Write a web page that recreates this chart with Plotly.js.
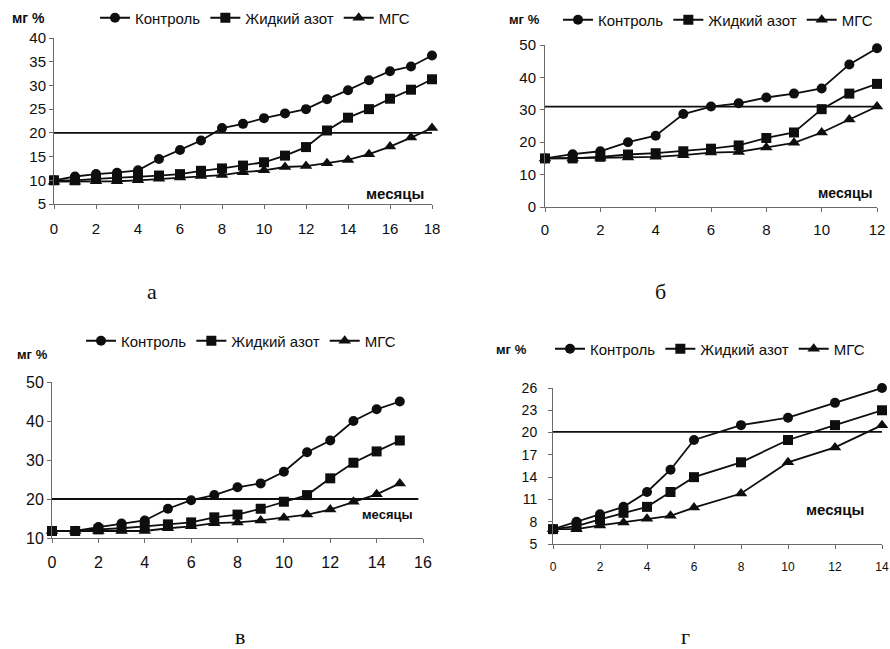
<!DOCTYPE html>
<html>
<head>
<meta charset="utf-8">
<script src="https://cdn.plot.ly/plotly-3.0.1.min.js"></script>
<style>html,body{margin:0;padding:0;background:#fff}</style>
</head>
<body>
<div id="chart" style="width:890px;height:649px"></div>
<script>
// Series names shared by all four panels
const seriesNames = ["Контроль", "Жидкий азот", "МГС"];

// Panel а: 0–18 months
const monthsA  = [0,1,2,3,4,5,6,7,8,9,10,11,12,13,14,15,16,17,18];
const controlA = [10,10.8,11.3,11.6,12.1,14.5,16.4,18.4,21,21.9,23.1,24.1,25,27.1,29,31.1,33,34,36.3];
const nitrogenA= [10,10,10.3,10.5,10.8,11,11.3,12,12.5,13.1,13.8,15.2,17,20.5,23.2,25,27.2,29.1,31.3];
const mgsA     = [9.7,9.7,9.8,9.8,10,10.3,10.6,10.9,11.1,11.7,12.1,12.8,13,13.6,14.3,15.5,17.1,19,21];
const refA = 20;

// Panel б: 0–12 months
const monthsB  = [0,1,2,3,4,5,6,7,8,9,10,11,12];
const controlB = [15,16.3,17.2,20,22,28.7,31,32,33.8,35,36.6,44,49];
const nitrogenB= [15,15,15.5,16.2,16.6,17.2,18,19,21.3,23,30.2,35,38];
const mgsB     = [15,15,15.2,15.3,15.5,16,16.8,17,18.4,19.8,23,27,31];
const refB = 31;

// Panel в: 0–15 months
const monthsC  = [0,1,2,3,4,5,6,7,8,9,10,11,12,13,14,15];
const controlC = [11.8,11.8,12.8,13.7,14.5,17.5,19.7,21,23,24,27,32,35,40,43,45];
const nitrogenC= [11.8,11.8,12.2,12.5,13,13.5,14,15.3,16,17.5,19.3,21,25.3,29.3,32.2,35];
const mgsC     = [11.8,11.8,11.8,11.8,11.8,12.5,13,13.8,14,14.5,15.2,16,17.3,19.3,21.2,24];
const refC = 20;

// Panel г: 0–14 months
const monthsD  = [0,1,2,3,4,5,6,8,10,12,14];
const controlD = [7,8,9,10,12,15,19,21,22,24,26];
const nitrogenD= [7,7.4,8.3,9.2,10,12,14,16,19,21,23];
const mgsD     = [7,7,7.5,7.9,8.4,8.8,9.9,11.8,16,18,21];
const refD = 20.1;

// Axis tick settings
const xTicksA = {range:[0,18], dtick:2};
const yTicksA = {range:[5,40], dtick:5};
const xTicksB = {range:[0,12], dtick:2};
const yTicksB = {range:[0,50], dtick:10};
const xTicksC = {range:[0,16], dtick:2};
const yTicksC = {range:[10,50], dtick:10};
const xTicksD = {range:[0,14], dtick:2};
const yTicksD = {range:[5,26], tickvals:[5,8,11,14,17,20,23,26]};

const W = 890, H = 649;
const px = v => v / W;
const py = v => 1 - v / H;
const INK = '#0e0e0e';
const symbols = ['circle','square','triangle-up'];
const symbolSizes = [10, 10, 11];

const traces = [];
function addPanel(n, x, series, ref, refRange) {
  const xa = n === 1 ? 'x' : 'x' + n;
  const ya = n === 1 ? 'y' : 'y' + n;
  const lg = n === 1 ? 'legend' : 'legend' + n;
  series.forEach((ys, i) => {
    traces.push({
      type:'scatter', mode:'lines+markers', x:x, y:ys, name:seriesNames[i],
      xaxis:xa, yaxis:ya, legend:lg, cliponaxis:false,
      line:{color:INK, width:1.8},
      marker:{symbol:symbols[i], size:symbolSizes[i], color:INK}
    });
  });
  traces.push({
    type:'scatter', mode:'lines', x:refRange, y:[ref, ref],
    xaxis:xa, yaxis:ya, showlegend:false, cliponaxis:false, hoverinfo:'skip',
    line:{color:INK, width:1.8}
  });
}
addPanel(1, monthsA, [controlA, nitrogenA, mgsA], refA, [0,18]);
addPanel(2, monthsB, [controlB, nitrogenB, mgsB], refB, [0,12]);
addPanel(3, monthsC, [controlC, nitrogenC, mgsC], refC, [0,15.8]);
addPanel(4, monthsD, [controlD, nitrogenD, mgsD], refD, [0,14]);

const tickFont = s => ({family:'Liberation Sans, Arial, sans-serif', size:s, color:INK});
function axis(t, dom, anchor, fs, standoff) {
  return Object.assign({
    domain:dom, anchor:anchor, showgrid:false, zeroline:false,
    showline:true, linecolor:'#6a6a6a', linewidth:1,
    ticks:'outside', ticklen:4, tickcolor:'#6a6a6a',
    tickfont:tickFont(fs), ticklabelstandoff:standoff, fixedrange:true
  }, t);
}
function legend(x, y, fs) {
  return {orientation:'h', x:x, y:y, xanchor:'left', yanchor:'middle',
    bgcolor:'rgba(0,0,0,0)', font:{family:'Liberation Sans, Arial, sans-serif', size:fs, color:INK},
    itemwidth:30, tracegroupgap:0};
}

const boldFont = s => ({family:'Liberation Sans, Arial, sans-serif', size:s, color:INK, weight:'bold'});
const serifFont = {family:'Liberation Serif, Times New Roman, serif', size:22, color:INK};
function note(text, x, y, font) {
  return {text:text, xref:'paper', yref:'paper', x:px(x), y:py(y),
    xanchor:'center', yanchor:'middle', showarrow:false, font:font};
}

const layout = {
  width:W, height:H, margin:{l:0,r:0,t:0,b:0},
  paper_bgcolor:'#fff', plot_bgcolor:'rgba(0,0,0,0)',
  xaxis:  axis(xTicksA, [px(54), px(432)], 'y', 15, 7),
  yaxis:  axis(yTicksA, [py(204), py(38)], 'x', 15, 0),
  xaxis2: axis(xTicksB, [px(545), px(877)], 'y2', 15, 5),
  yaxis2: axis(yTicksB, [py(207), py(45)], 'x2', 15, 1),
  xaxis3: axis(xTicksC, [px(52), px(423)], 'y3', 16, 6),
  yaxis3: axis(yTicksC, [py(538), py(382)], 'x3', 16, 0),
  xaxis4: axis(xTicksD, [px(553), px(882)], 'y4', 12, 8),
  yaxis4: axis(yTicksD, [py(544), py(388)], 'x4', 14, 8),
  legend:  legend(px(95), py(18), 15),
  legend2: legend(px(558), py(20), 15),
  legend3: legend(px(81), py(341), 15),
  legend4: legend(px(550), py(349), 15),
  annotations: [
    note('мг %', 28, 18, boldFont(14)),
    note('мг %', 524, 19, boldFont(13)),
    note('мг %', 32, 354, boldFont(13)),
    note('мг %', 511, 349, boldFont(13)),
    note('месяцы', 395, 193, boldFont(15)),
    note('месяцы', 845, 193, boldFont(14)),
    note('месяцы', 387, 514, boldFont(13)),
    note('месяцы', 835, 509, boldFont(15)),
    note('а', 152, 292, serifFont),
    note('б', 660, 292, serifFont),
    note('в', 240, 636, serifFont),
    note('г', 685, 636, serifFont)
  ]
};

Plotly.newPlot('chart', traces, layout, {staticPlot:true, displayModeBar:false});
</script>
</body>
</html>
